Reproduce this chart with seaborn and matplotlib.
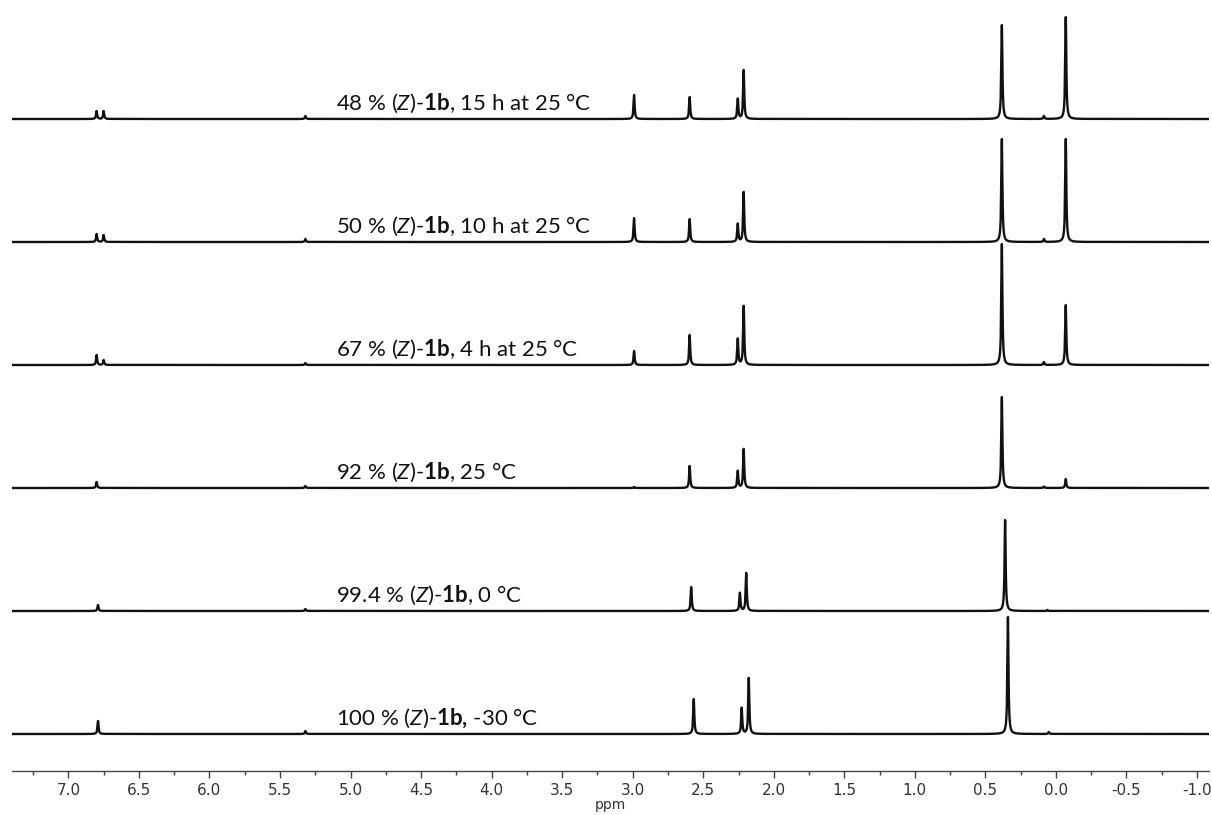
import numpy as np
import pandas as pd
import matplotlib
matplotlib.use("Agg")
import matplotlib.pyplot as plt
from matplotlib.ticker import MultipleLocator, FormatStrFormatter
import seaborn as sns

sns.set_theme(style='white')
plt.rcParams['font.family'] = ['Lato', 'DejaVu Sans']
plt.rcParams['mathtext.fontset'] = 'custom'
plt.rcParams['mathtext.rm'] = 'Lato'
plt.rcParams['mathtext.it'] = 'Lato:italic'
plt.rcParams['mathtext.bf'] = 'Lato:bold'

# peak lists (shift in ppm, intensity a.u.)
labels = [r"48 % ($\mathit{Z}$)-$\mathbf{1b}$, 15 h at 25 °C",
          r"50 % ($\mathit{Z}$)-$\mathbf{1b}$, 10 h at 25 °C",
          r"67 % ($\mathit{Z}$)-$\mathbf{1b}$, 4 h at 25 °C",
          r"92 % ($\mathit{Z}$)-$\mathbf{1b}$, 25 °C",
          r"99.4 % ($\mathit{Z}$)-$\mathbf{1b}$, 0 °C",
          r"100 % ($\mathit{Z}$)-$\mathbf{1b}$$\mathbf{,}$ -30 °C"]

shifts_48 = [6.80, 6.75, 5.32, 2.99, 2.596, 2.255, 2.213, 0.383, 0.085, -0.07]
heights_48 = [8, 8, 3, 24, 22, 20, 49, 94, 3, 102]

shifts_50 = [6.80, 6.75, 5.32, 2.99, 2.596, 2.255, 2.213, 0.383, 0.085, -0.07]
heights_50 = [8, 7, 3, 24, 23, 18, 50, 103, 3, 103]

shifts_67 = [6.80, 6.75, 5.32, 2.99, 2.596, 2.255, 2.213, 0.383, 0.085, -0.07]
heights_67 = [10, 5, 2, 14, 30, 26, 59, 121, 3, 60]

shifts_92 = [6.80, 5.32, 2.99, 2.596, 2.255, 2.213, 0.383, 0.085, -0.07]
heights_92 = [6, 2, 1, 22, 17, 39, 91, 1.5, 9]

shifts_994 = [6.79, 5.32, 2.585, 2.24, 2.195, 0.36, 0.06]
heights_994 = [6, 2, 24, 18, 38, 91, 1]

shifts_100 = [6.79, 5.32, 2.567, 2.227, 2.177, 0.34, 0.05]
heights_100 = [13, 3, 35, 26, 56, 117, 2]

spectra = [(shifts_48, heights_48), (shifts_50, heights_50), (shifts_67, heights_67),
           (shifts_92, heights_92), (shifts_994, heights_994), (shifts_100, heights_100)]

step = 123      # vertical stacking offset
hwhm = 0.0045   # lorentzian half width
ppm = np.arange(-1.1, 7.42, 0.0003)

fig = plt.figure(figsize=(12.12, 8.15), dpi=100)
ax = fig.add_axes([0.0099, 0.054, 0.9876, 0.946])

for i, (shifts, heights) in enumerate(spectra):
    offset = (len(spectra) - 1 - i) * step
    y = np.zeros_like(ppm)
    for s, h in zip(shifts, heights):
        y += h * hwhm ** 2 / ((ppm - s) ** 2 + hwhm ** 2)
    df = pd.DataFrame({'ppm': ppm, 'intensity': y + offset})
    sns.lineplot(data=df, x='ppm', y='intensity', ax=ax, color='#111111',
                 lw=1.7, estimator=None, sort=False)
    ax.text(5.10, offset + 9, labels[i], fontsize=16, va='baseline',
            ha='left', color='#111111')

ax.set_xlim(7.40, -1.085)
ax.set_ylim(-37, 734)
ax.set_ylabel('')
ax.set_yticks([])
sns.despine(ax=ax, left=True, right=True, top=True, bottom=False)
ax.spines['bottom'].set_color('#444444')
ax.spines['bottom'].set_linewidth(1.0)

ax.xaxis.set_major_locator(MultipleLocator(0.5))
ax.xaxis.set_minor_locator(MultipleLocator(0.25))
ax.xaxis.set_major_formatter(FormatStrFormatter('%.1f'))
ax.tick_params(axis='x', which='major', direction='out', length=5, width=1,
               color='#444444', bottom=True, labelsize=11, labelcolor='#333333', pad=4)
ax.tick_params(axis='x', which='minor', direction='out', length=3, width=1,
               color='#444444', bottom=True)
for lab in ax.get_xticklabels():
    lab.set_family('DejaVu Sans')
ax.set_xlabel('ppm', fontsize=10, color='#333333', labelpad=0, family='DejaVu Sans')

fig.savefig('out.png', dpi=100)
